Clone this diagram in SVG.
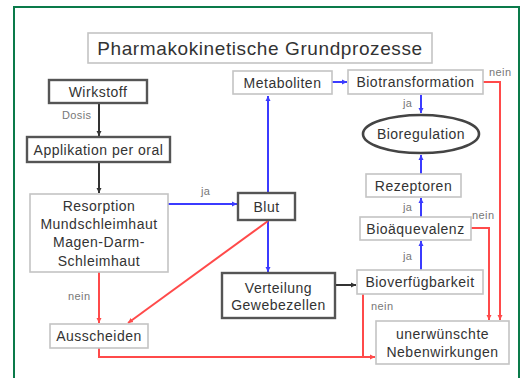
<svg xmlns="http://www.w3.org/2000/svg" width="522" height="378" viewBox="0 0 522 378">
<style>
.lb{fill:#fff;stroke:#c4c4c4;stroke-width:1.6}
.db{fill:#fff;stroke:#555;stroke-width:2.4}
.t{font-family:"Liberation Sans",Arial,sans-serif;font-size:14px;fill:#333;text-anchor:middle;letter-spacing:0.5px}
.s{font-family:"Liberation Sans",Arial,sans-serif;font-size:11px;fill:#777;letter-spacing:0.4px}
.bl{stroke:#3b3bff;stroke-width:2;fill:none}
.rd{stroke:#ff4a4a;stroke-width:2;fill:none}
.bk{stroke:#333;stroke-width:2;fill:none}
</style>
<defs>
<marker id="ab" markerWidth="6" markerHeight="6" refX="5" refY="3" orient="auto" markerUnits="userSpaceOnUse"><path d="M0,0.5 L5,3 L0,5.5 Z" fill="#3b3bff"/></marker>
<marker id="ar" markerWidth="6" markerHeight="6" refX="5" refY="3" orient="auto" markerUnits="userSpaceOnUse"><path d="M0,0.5 L5,3 L0,5.5 Z" fill="#ff4a4a"/></marker>
<marker id="ak" markerWidth="6" markerHeight="6" refX="5" refY="3" orient="auto" markerUnits="userSpaceOnUse"><path d="M0,0.5 L5,3 L0,5.5 Z" fill="#333"/></marker>
</defs>
<rect x="0" y="0" width="522" height="378" fill="#fff"/>
<rect x="14" y="7" width="505" height="375" fill="#fff" stroke="#0a7a4a" stroke-width="2"/>

<g id="connectors">
<line class="bk" x1="99" y1="104" x2="99" y2="136" marker-end="url(#ak)"/>
<line class="bk" x1="99" y1="163" x2="99" y2="193" marker-end="url(#ak)"/>
<line class="bk" x1="336" y1="285" x2="356" y2="285" marker-end="url(#ak)"/>
<line class="bl" x1="332" y1="82" x2="347" y2="82" marker-end="url(#ab)"/>
<line class="bl" x1="268" y1="192" x2="268" y2="96" marker-end="url(#ab)"/>
<line class="bl" x1="268" y1="221" x2="268" y2="272" marker-end="url(#ab)"/>
<line class="bl" x1="168" y1="204" x2="237" y2="204" marker-end="url(#ab)"/>
<line class="bl" x1="421" y1="95" x2="421" y2="113" marker-end="url(#ab)"/>
<line class="bl" x1="421" y1="174" x2="421" y2="155" marker-end="url(#ab)"/>
<line class="bl" x1="421" y1="217" x2="421" y2="198" marker-end="url(#ab)"/>
<line class="bl" x1="421" y1="270" x2="421" y2="241" marker-end="url(#ab)"/>
<polyline class="rd" points="483,82 500,82 500,320" marker-end="url(#ar)"/>
<polyline class="rd" points="471,228 489,228 489,320" marker-end="url(#ar)"/>
<polyline class="rd" points="363,294 363,357"/>
<polyline class="rd" points="99,348 99,357 375,357" marker-end="url(#ar)"/>
<line class="rd" x1="99" y1="272" x2="99" y2="323" marker-end="url(#ar)"/>
<line class="rd" x1="268" y1="221" x2="128" y2="323" marker-end="url(#ar)"/>
<text class="s" x="62" y="119">Dosis</text>
<text class="s" x="201" y="195">ja</text>
<text class="s" x="68" y="300">nein</text>
<text class="s" x="403" y="107">ja</text>
<text class="s" x="403" y="211">ja</text>
<text class="s" x="403" y="260">ja</text>
<text class="s" x="489" y="76">nein</text>
<text class="s" x="472" y="219">nein</text>
<text class="s" x="371" y="310">nein</text>
</g>

<g id="title"><rect class="lb" x="88" y="33" width="344" height="30"/><text class="t" x="260" y="55" style="font-size:19px;letter-spacing:0.6px">Pharmakokinetische Grundprozesse</text></g>
<g id="wirkstoff"><rect class="db" x="49" y="80" width="98" height="23"/><text class="t" x="98" y="96.5">Wirkstoff</text></g>
<g id="applikation"><rect class="db" x="27" y="137" width="143" height="25"/><text class="t" x="98.5" y="154.5">Applikation per oral</text></g>
<g id="resorption"><rect class="lb" x="30" y="194" width="138" height="78"/>
<text class="t" x="99" y="211">Resorption</text><text class="t" x="99" y="229">Mundschleimhaut</text><text class="t" x="99" y="247">Magen-Darm-</text><text class="t" x="99" y="266">Schleimhaut</text></g>
<g id="ausscheiden"><rect class="lb" x="50" y="324" width="98" height="24"/><text class="t" x="99" y="341">Ausscheiden</text></g>
<g id="metaboliten"><rect class="lb" x="233" y="71" width="99" height="23"/><text class="t" x="282.5" y="87.5">Metaboliten</text></g>
<g id="biotransformation"><rect class="lb" x="348" y="70" width="135" height="24"/><text class="t" x="415.5" y="87">Biotransformation</text></g>
<g id="bioregulation"><ellipse cx="421" cy="134" rx="58" ry="19" fill="#fff" stroke="#444" stroke-width="2.6"/><text class="t" x="421" y="139">Bioregulation</text></g>
<g id="rezeptoren"><rect class="lb" x="366" y="174" width="95" height="23"/><text class="t" x="413.5" y="190.5">Rezeptoren</text></g>
<g id="bioaequevalenz"><rect class="lb" x="360" y="217" width="111" height="23"/><text class="t" x="415.5" y="233.5">Bioäquevalenz</text></g>
<g id="bioverfuegbarkeit"><rect class="lb" x="357" y="270" width="126" height="24"/><text class="t" x="420" y="287">Bioverfügbarkeit</text></g>
<g id="blut"><rect class="db" x="238" y="193" width="57" height="27"/><text class="t" x="266.5" y="211.5">Blut</text></g>
<g id="verteilung"><rect class="db" x="222" y="273" width="113" height="45"/><text class="t" x="278.5" y="293">Verteilung</text><text class="t" x="278.5" y="310">Gewebezellen</text></g>
<g id="nebenwirkungen"><rect class="lb" x="376" y="321" width="133" height="43"/><text class="t" x="442.5" y="339">unerwünschte</text><text class="t" x="442.5" y="357">Nebenwirkungen</text></g>
</svg>
